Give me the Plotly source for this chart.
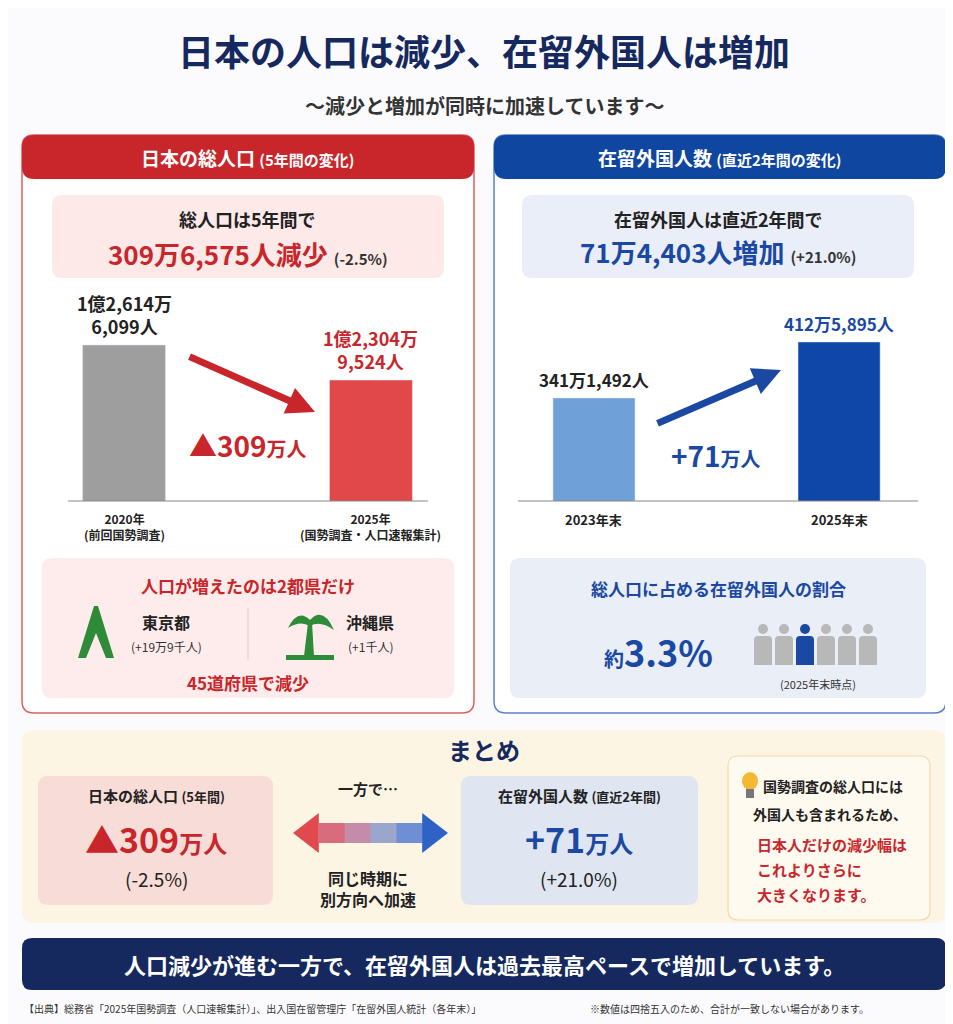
import plotly.graph_objects as go

W, H = 953, 1024

# data
jp_years = ["2020年", "2025年"]
jp_pop = [126146099, 123049524]
jp_labels = ["1億2,614万<br>6,099人", "1億2,304万<br>9,524人"]
jp_ticks = ["2020年<br>(前回国勢調査)", "2025年<br>(国勢調査・人口速報集計)"]

fr_years = ["2023年末", "2025年末"]
fr_pop = [3411492, 4125895]
fr_labels = ["341万1,492人", "412万5,895人"]

FONT = "Noto Sans CJK JP"
RED = "#c8262b"
BLUE = "#1a48a3"
NAVY = "#15295e"


def px(x):
    return x / W


def py(y):
    return 1 - y / H


def rrect(x0, y0, x1, y1, r=10):
    # rounded rectangle path in paper coords
    rx, ry = r / W, r / H
    a, b, c, d = px(x0), py(y1), px(x1), py(y0)
    return (f"M{a+rx},{b} L{c-rx},{b} Q{c},{b} {c},{b+ry} L{c},{d-ry} Q{c},{d} {c-rx},{d} "
            f"L{a+rx},{d} Q{a},{d} {a},{d-ry} L{a},{b+ry} Q{a},{b} {a+rx},{b} Z")


shapes = []
annos = []


def box(x0, y0, x1, y1, fill, line=None, r=10, w=1.5):
    shapes.append(dict(type="path", path=rrect(x0, y0, x1, y1, r), xref="paper", yref="paper",
                       fillcolor=fill, line=dict(color=line or fill, width=w if line else 0), layer="below"))


def text(x, y, s, size=16, color="#222", anchor="center", bold=True):
    annos.append(dict(x=px(x), y=py(y), xref="paper", yref="paper", text=f"<b>{s}</b>" if bold else s,
                      showarrow=False, xanchor=anchor, yanchor="middle",
                      font=dict(size=size, color=color, family=FONT)))


fig = go.Figure()
fig.add_trace(go.Bar(x=[0, 1], y=[v / 1e6 for v in jp_pop], width=0.336,
                     marker=dict(color=["#9e9e9e", "#e0484a"]), xaxis="x", yaxis="y",
                     hoverinfo="skip"))
fig.add_trace(go.Bar(x=[0, 1], y=[v / 1e6 for v in fr_pop], width=0.335,
                     marker=dict(color=["#6fa0d8", "#0f47a8"]), xaxis="x2", yaxis="y2",
                     hoverinfo="skip"))

ax = dict(visible=False, fixedrange=True)
fig.update_layout(
    xaxis=dict(ax, domain=[px(60), px(420)], range=[-0.227, 1.231]),
    yaxis=dict(ax, domain=[py(493), py(290)], range=[112.35, 130.3]),
    xaxis2=dict(ax, domain=[px(510), px(910)], range=[-0.31, 1.322]),
    yaxis2=dict(ax, domain=[py(493), py(290)], range=[2.0975, 4.687]),
)

# title
text(476, 42, "日本の人口は減少、在留外国人は増加", 36, NAVY)
text(476, 97, "～減少と増加が同時に加速しています～", 20, "#333")

# left panel
box(14, 127, 466, 705, "white", "#d9625f", 12)
box(14, 127, 466, 171, RED, r=12)
text(240, 149, "日本の総人口 <span style='font-size:15px'>(5年間の変化)</span>", 19, "white")
box(44, 187, 436, 270, "#fde9e7", r=10)
text(240, 211, "総人口は5年間で", 18)
text(240, 245, "309万6,575人減少 <span style='font-size:15px;color:#333'>(-2.5%)</span>", 26, RED)
shapes.append(dict(type="line", xref="paper", yref="paper", x0=px(60), x1=px(420), y0=py(493), y1=py(493),
                   line=dict(color="#888", width=1.2)))
for i, (lab, col) in enumerate(zip(jp_labels, ["#222", RED])):
    annos.append(dict(x=i, y=jp_pop[i] / 1e6, xref="x", yref="y", text=f"<b>{lab}</b>", showarrow=False,
                      yanchor="bottom", yshift=4, font=dict(size=18, color=col, family=FONT)))
    annos.append(dict(x=i, y=py(500), xref="x", yref="paper", text=f"<b>{jp_ticks[i]}</b>", showarrow=False,
                      yanchor="top", font=dict(size=12, color="#222", family=FONT)))
annos.append(dict(x=px(307), y=py(404), ax=-127, ay=-56, xref="paper", yref="paper", axref="pixel",
                  ayref="pixel", showarrow=True, arrowhead=2, arrowsize=0.8, arrowwidth=7, arrowcolor=RED, text=""))
text(240, 437, "▲309<span style='font-size:20px'>万人</span>", 28, RED)

box(34, 550, 446, 690, "#fdeceb", r=10)
text(240, 577, "人口が増えたのは2都県だけ", 17, RED)
# Tokyo tower icon
shapes.append(dict(type="path", xref="paper", yref="paper", fillcolor="#2e8b3a", line=dict(width=0),
                   path=f"M{px(70)},{py(650)} L{px(86)},{py(598)} L{px(90)},{py(598)} L{px(106)},{py(650)} "
                        f"L{px(98)},{py(650)} L{px(88)},{py(625)} L{px(78)},{py(650)} Z"))
# palm icon
shapes.append(dict(type="path", xref="paper", yref="paper", fillcolor="#2e8b3a", line=dict(width=0),
                   path=f"M{px(296)},{py(648)} L{px(300)},{py(615)} L{px(304)},{py(615)} L{px(306)},{py(648)} Z"))
shapes.append(dict(type="path", xref="paper", yref="paper", fillcolor="#2e8b3a", line=dict(width=0),
                   path=f"M{px(280)},{py(620)} Q{px(290)},{py(600)} {px(302)},{py(612)} Q{px(315)},{py(598)} "
                        f"{px(326)},{py(622)} Q{px(312)},{py(612)} {px(302)},{py(618)} Q{px(292)},{py(612)} {px(280)},{py(620)} Z"))
shapes.append(dict(type="rect", xref="paper", yref="paper", x0=px(278), x1=px(326), y0=py(652), y1=py(647),
                   fillcolor="#2e8b3a", line=dict(width=0)))
text(158, 614, "東京都", 16)
text(158, 638, "(+19万9千人)", 12, "#333", bold=False)
shapes.append(dict(type="line", xref="paper", yref="paper", x0=px(240), x1=px(240), y0=py(600), y1=py(652),
                   line=dict(color="#e3c6c4", width=1)))
text(362, 614, "沖縄県", 16)
text(362, 638, "(+1千人)", 12, "#333", bold=False)
text(240, 674, "45道府県で減少", 17, RED)

# right panel
box(486, 127, 938, 705, "white", "#5b82c8", 12)
box(486, 127, 938, 171, "#0f46a0", r=12)
text(712, 149, "在留外国人数 <span style='font-size:15px'>(直近2年間の変化)</span>", 19, "white")
box(514, 187, 906, 270, "#e9eef8", r=10)
text(710, 211, "在留外国人は直近2年間で", 18)
text(710, 243, "71万4,403人増加 <span style='font-size:15px;color:#333'>(+21.0%)</span>", 26, BLUE)
shapes.append(dict(type="line", xref="paper", yref="paper", x0=px(510), x1=px(910), y0=py(493), y1=py(493),
                   line=dict(color="#888", width=1.2)))
for i, (lab, col) in enumerate(zip(fr_labels, ["#222", BLUE])):
    annos.append(dict(x=i, y=fr_pop[i] / 1e6, xref="x2", yref="y2", text=f"<b>{lab}</b>", showarrow=False,
                      yanchor="bottom", yshift=4, font=dict(size=17, color=col, family=FONT)))
    annos.append(dict(x=i, y=py(500), xref="x2", yref="paper", text=f"<b>{fr_years[i]}</b>", showarrow=False,
                      yanchor="top", font=dict(size=13, color="#222", family=FONT)))
annos.append(dict(x=px(773), y=py(362), ax=-125, ay=54, xref="paper", yref="paper", axref="pixel",
                  ayref="pixel", showarrow=True, arrowhead=2, arrowsize=0.8, arrowwidth=7, arrowcolor=BLUE, text=""))
text(708, 447, "+71<span style='font-size:20px'>万人</span>", 28, BLUE)

box(502, 550, 918, 690, "#e9eef7", r=10)
text(710, 580, "総人口に占める在留外国人の割合", 17, BLUE)
text(650, 643, "<span style='font-size:20px'>約</span>3.3%", 36, BLUE)
for k in range(6):
    cx = 755 + k * 21
    col = BLUE if k == 2 else "#b8b8b8"
    shapes.append(dict(type="circle", xref="paper", yref="paper", x0=px(cx - 5), x1=px(cx + 5),
                       y0=py(626), y1=py(616), fillcolor=col, line=dict(width=0)))
    shapes.append(dict(type="path", xref="paper", yref="paper", fillcolor=col, line=dict(width=0),
                       path=f"M{px(cx-9)},{py(657)} L{px(cx-9)},{py(632)} Q{px(cx-9)},{py(628)} {px(cx-5)},{py(628)} "
                            f"L{px(cx+5)},{py(628)} Q{px(cx+9)},{py(628)} {px(cx+9)},{py(632)} L{px(cx+9)},{py(657)} Z"))
text(810, 676, "(2025年末時点)", 11, "#333", bold=False)

# summary
box(14, 722, 938, 915, "#fdf5e4", r=12)
text(476, 741, "まとめ", 24, NAVY)
box(30, 768, 265, 897, "#f8dcd7", r=10)
text(148, 787, "日本の総人口 <span style='font-size:13px'>(5年間)</span>", 15)
text(148, 830, "▲309<span style='font-size:24px'>万人</span>", 34, RED)
text(148, 870, "(-2.5%)", 19, "#222", bold=False)
text(360, 780, "一方で…", 15)
grad = ["#e04a4e", "#d86c7e", "#c48ca8", "#9aa6cc", "#6f8fd4", "#2e62c4"]
seg = (440 - 285) / len(grad)
for k, c in enumerate(grad):
    x0 = 285 + k * seg
    x1 = x0 + seg
    if k == 0:
        p = f"M{px(x0)},{py(825)} L{px(x1)},{py(805)} L{px(x1)},{py(845)} Z"
    elif k == len(grad) - 1:
        p = f"M{px(x0)},{py(805)} L{px(x1)},{py(825)} L{px(x0)},{py(845)} Z"
    else:
        p = f"M{px(x0)},{py(815)} L{px(x1+0.5)},{py(815)} L{px(x1+0.5)},{py(835)} L{px(x0)},{py(835)} Z"
    shapes.append(dict(type="path", xref="paper", yref="paper", path=p, fillcolor=c, line=dict(width=0)))
text(360, 880, "同じ時期に<br>別方向へ加速", 16)
box(453, 768, 690, 897, "#dfe6f1", r=10)
text(571, 787, "在留外国人数 <span style='font-size:13px'>(直近2年間)</span>", 15)
text(571, 830, "+71<span style='font-size:24px'>万人</span>", 34, BLUE)
text(571, 870, "(+21.0%)", 19, "#222", bold=False)

box(720, 748, 922, 912, "#fffaf0", "#f3d9a6", 10, 1.2)
shapes.append(dict(type="circle", xref="paper", yref="paper", x0=px(734), x1=px(750), y0=py(782), y1=py(764),
                   fillcolor="#f5b833", line=dict(width=0)))
shapes.append(dict(type="rect", xref="paper", yref="paper", x0=px(738), x1=px(746), y0=py(790), y1=py(781),
                   fillcolor="#777", line=dict(width=0)))
text(825, 778, "国勢調査の総人口には", 14)
text(822, 806, "外国人も含まれるため、", 14)
text(747, 836, "日本人だけの減少幅は", 15, RED, "left")
text(747, 861, "これよりさらに", 15, RED, "left")
text(747, 886, "大きくなります。", 15, RED, "left")

# banner
box(14, 930, 938, 982, NAVY, r=10)
text(476, 956, "人口減少が進む一方で、在留外国人は過去最高ペースで増加しています。", 22, "white")

text(14, 1000, "【出典】総務省「2025年国勢調査（人口速報集計）」、出入国在留管理庁「在留外国人統計（各年末）」",
     10, "#333", "left", bold=False)
text(580, 1000, "※数値は四捨五入のため、合計が一致しない場合があります。", 10, "#333", "left", bold=False)

fig.update_layout(width=W, height=H, margin=dict(l=0, r=0, t=0, b=0), showlegend=False,
                  paper_bgcolor="#fbfbfd", plot_bgcolor="rgba(0,0,0,0)", shapes=shapes, annotations=annos,
                  font=dict(family=FONT))
fig.write_html("out.html")
